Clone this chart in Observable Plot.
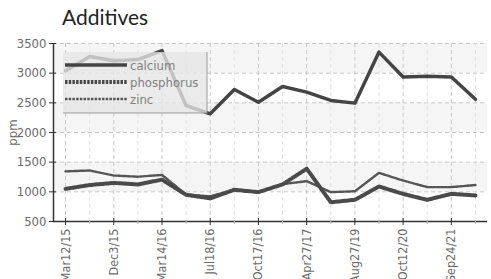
<!DOCTYPE html>
<html>
<head>
<meta charset="utf-8">
<script src="https://cdn.jsdelivr.net/npm/d3@7"></script>
<script src="https://cdn.jsdelivr.net/npm/@observablehq/plot@0.6"></script>
<style>
  body { margin: 0; background: #fff; }
  #wrap { position: relative; width: 491px; height: 279px; overflow: hidden; }
  #title { position: absolute; left: 62px; top: 3px; font-family: Lato, "Open Sans", sans-serif; font-size: 21px; color: #222; line-height: 28px; }
  #chart { position: absolute; left: 0; top: 35px; }
  #chart svg text { font-stretch: condensed; }
</style>
</head>
<body>
<div id="wrap">
  <div id="title">Additives</div>
  <div id="chart"></div>
</div>
<script>
// ---- data ----
const tickLabels = ["Mar12/15","Dec3/15","Mar14/16","Jul18/16","Oct17/16","Apr27/17","Aug27/19","Oct12/20","Sep24/21"];
const calcium    = [3040,3280,3210,3230,3380,2455,2315,2725,2510,2775,2680,2540,2495,3355,2935,2950,2935,2560];
const phosphorus = [1050,1115,1150,1125,1205,950,890,1035,995,1125,1390,825,865,1090,965,865,965,940];
const zinc       = [1345,1360,1275,1255,1285,955,925,1035,1000,1130,1180,995,1010,1320,1190,1080,1080,1115];
const seriesNames = ["calcium","phosphorus","zinc"];
const bands = [[3000,3500],[2000,2500],[1000,1500]];
const yTicks = [500,1000,1500,2000,2500,3000,3500];

const FONT = '"DejaVu Sans Condensed","DejaVu Sans",sans-serif';
const styles = {
  calcium:    {strokeWidth: 3.5, dash: null, color: "#444"},
  phosphorus: {strokeWidth: 4,   dash: "2.5,1.2", color: "#4a4a4a"},
  zinc:       {strokeWidth: 2.4, dash: "2.5,1.2", color: "#555"}
};

const rows = [];
const seriesData = {calcium, phosphorus, zinc};
for (const s of seriesNames) seriesData[s].forEach((v, i) => rows.push({series: s, i, v}));
const idx = calcium.map((_, i) => i);
const major = idx.filter(i => i % 2 === 0);
const minor = idx.filter(i => i % 2 === 1);

const lineMark = s => Plot.line(rows.filter(d => d.series === s), {
  x: "i", y: "v", stroke: styles[s].color, strokeWidth: styles[s].strokeWidth,
  strokeDasharray: styles[s].dash, curve: "linear", strokeLinejoin: "round"
});

const plot = Plot.plot({
  width: 491, height: 246,
  marginLeft: 53, marginRight: 4, marginTop: 8, marginBottom: 60,
  style: {fontFamily: FONT, fontSize: "13px", color: "#6a6a6a", background: "transparent", overflow: "visible"},
  x: {type: "linear", domain: [-0.5, 17.5]},
  y: {type: "linear", domain: [500, 3500]},
  marks: [
    Plot.rect(bands, {y1: d => d[0], y2: d => d[1], fill: "#f5f5f5"}),
    Plot.ruleY(yTicks.slice(1), {stroke: "#c8c8c8", strokeDasharray: "4,3"}),
    Plot.ruleX(major, {stroke: "#c8c8c8", strokeDasharray: "4,3"}),
    Plot.ruleX(minor, {stroke: "#e2e2e2", strokeDasharray: "4,3"}),
    lineMark("calcium"),
    lineMark("zinc"),
    lineMark("phosphorus"),
    Plot.ruleX([-0.5], {stroke: "#333", strokeWidth: 1.5}),
    Plot.ruleY([500], {stroke: "#333", strokeWidth: 1.5}),
    Plot.axisY({ticks: yTicks, tickFormat: d => String(d), tickSize: 4, tickPadding: 3, stroke: "#333",
      fontSize: 13, label: "ppm", labelAnchor: "center", labelArrow: "none", labelOffset: 46}),
    Plot.axisY({ticks: yTicks, tickSize: -3, stroke: "#333", tickFormat: () => "", label: null}),
    Plot.axisX({ticks: major, tickFormat: i => tickLabels[i / 2], tickRotate: -90, tickSize: 4, tickPadding: 3,
      fontSize: 12.5, stroke: "#333", label: null}),
    Plot.axisX({ticks: major, tickSize: -3, stroke: "#333", tickFormat: () => "", label: null}),
    Plot.axisX({ticks: minor, tickSize: 3, stroke: "#bbb", tickFormat: () => "", label: null})
  ]
});
document.getElementById("chart").appendChild(plot);

// legend overlay (layout only)
const svgNS = "http://www.w3.org/2000/svg";
const leg = document.createElementNS(svgNS, "g");
leg.setAttribute("text-anchor", "start");
const L = {x: 63, y: 52 - 35, w: 144, h: 61};
const box = document.createElementNS(svgNS, "rect");
box.setAttribute("x", L.x); box.setAttribute("y", L.y);
box.setAttribute("width", L.w); box.setAttribute("height", L.h);
box.setAttribute("fill", "#e6e6e6"); box.setAttribute("fill-opacity", "0.78");
leg.appendChild(box);
const edge = document.createElementNS(svgNS, "path");
edge.setAttribute("d", `M${L.x + L.w},${L.y} V${L.y + L.h} H${L.x}`);
edge.setAttribute("stroke", "#999"); edge.setAttribute("fill", "none"); edge.setAttribute("stroke-width", "1");
leg.appendChild(edge);
seriesNames.forEach((s, k) => {
  const yy = L.y + 13 + k * 17;
  const ln = document.createElementNS(svgNS, "line");
  ln.setAttribute("x1", L.x + 2); ln.setAttribute("x2", L.x + 64);
  ln.setAttribute("y1", yy); ln.setAttribute("y2", yy);
  ln.setAttribute("stroke", styles[s].color); ln.setAttribute("stroke-width", styles[s].strokeWidth);
  if (styles[s].dash) ln.setAttribute("stroke-dasharray", styles[s].dash);
  leg.appendChild(ln);
  const tx = document.createElementNS(svgNS, "text");
  tx.setAttribute("x", L.x + 67); tx.setAttribute("y", yy + 4.5);
  tx.setAttribute("fill", "#808080"); tx.setAttribute("font-size", "13px");
  tx.setAttribute("font-family", FONT);
  tx.setAttribute("text-anchor", "start");
  tx.textContent = s;
  leg.appendChild(tx);
});
plot.appendChild(leg);
</script>
</body>
</html>
